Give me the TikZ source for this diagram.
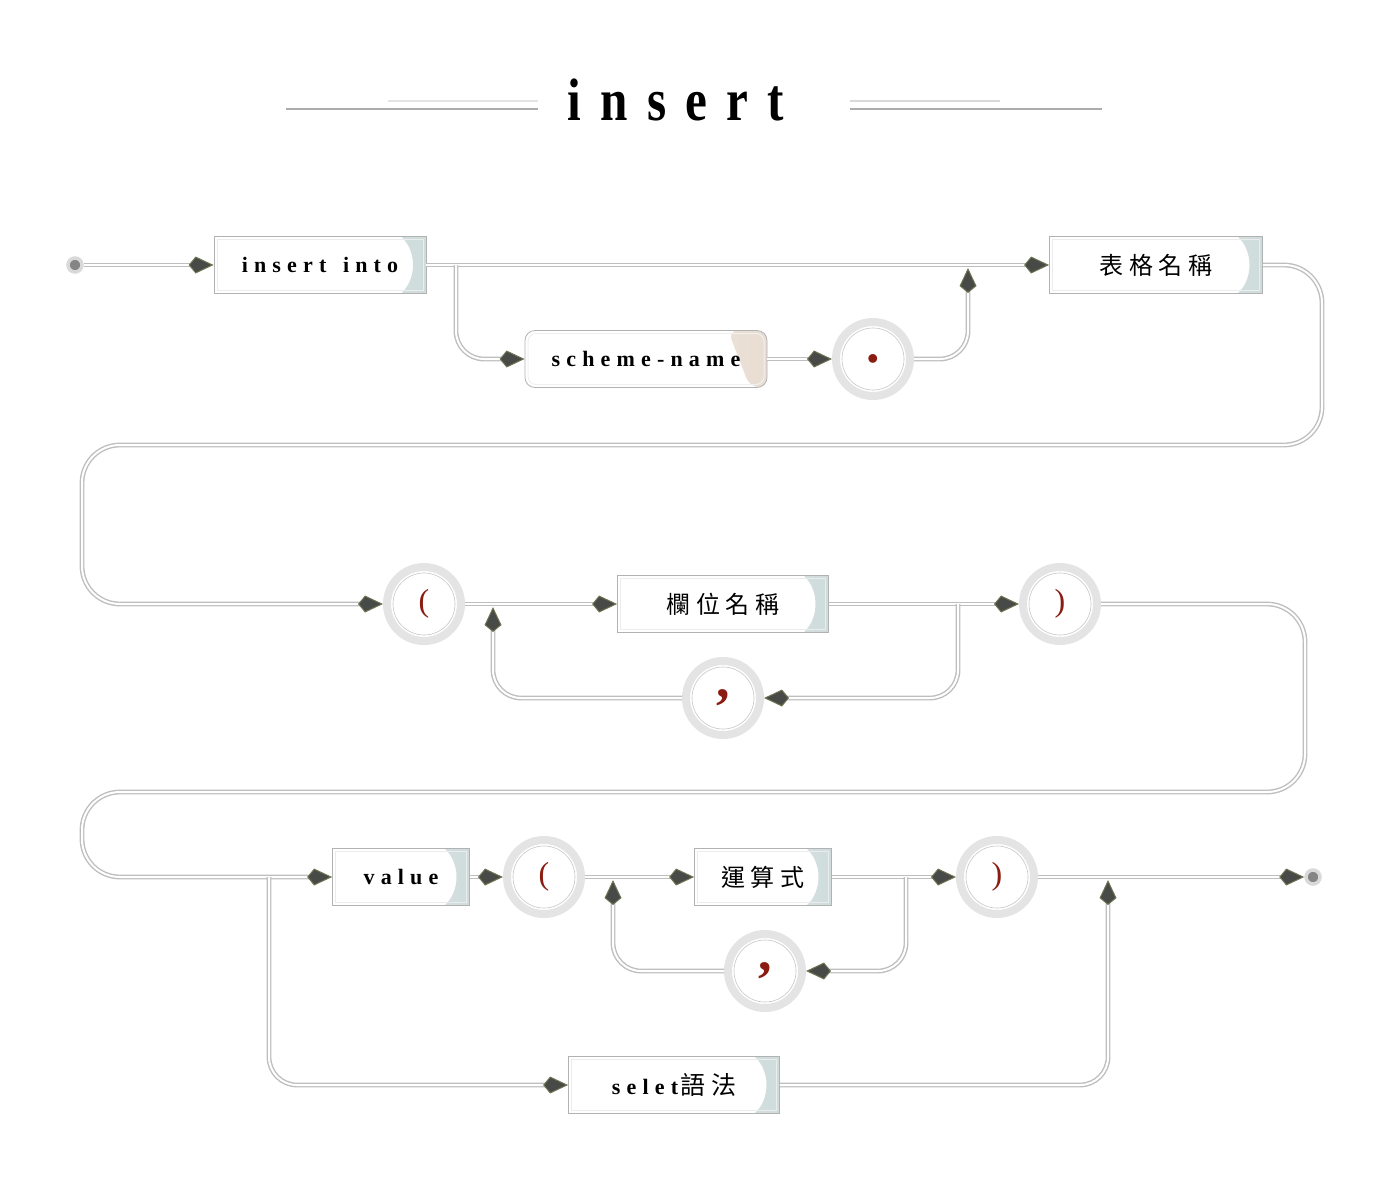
\documentclass[tikz,border=0pt]{standalone}
\usepackage{fontspec}
\setmainfont{Liberation Serif}
\newfontfamily\spaced[LetterSpace=28]{Liberation Serif}
\newfontfamily\titlefont[LetterSpace=32,FakeStretch=0.82]{Liberation Serif}
\newfontfamily\cjk[LetterSpace=24]{Noto Sans CJK TC}
\usetikzlibrary{arrows.meta}

\definecolor{wiregray}{HTML}{BEBEBE}
\definecolor{ringgray}{HTML}{E4E4E4}
\definecolor{boxtint}{HTML}{CFDCDC}
\definecolor{schemetint}{HTML}{E9DDD2}
\definecolor{punctred}{HTML}{8B1C12}
\definecolor{tipdark}{HTML}{484A47}
\definecolor{tipolive}{HTML}{6E7352}
\definecolor{dotgray}{HTML}{858585}

\tikzset{
  flow/.style={draw=white, line width=2pt, rounded corners=28pt, ->,
    preaction={draw=wiregray, line width=4.8pt, -, shorten >=8pt}},
  termbox/.style={rectangle, draw=gray!60, line width=0.8pt, fill=white,
    minimum height=57pt, inner sep=0pt, font=\spaced\bfseries\fontsize{22}{26}\selectfont,
    path picture={
      \shade[left color=boxtint!45, right color=boxtint]
        ([xshift=-25pt]path picture bounding box.north east)
        .. controls +(16pt,-14pt) and +(16pt,14pt) .. ([xshift=-25pt]path picture bounding box.south east)
        -- (path picture bounding box.south east) -- (path picture bounding box.north east) -- cycle;
      \draw[gray!15, line width=1pt]
        ([shift={(3pt,-3pt)}]path picture bounding box.north west) rectangle
        ([shift={(-3pt,3pt)}]path picture bounding box.south east);
    }},
  schemebox/.style={rectangle, rounded corners=10pt, draw=gray!60, line width=0.8pt, fill=white,
    minimum height=57pt, inner sep=0pt, font=\spaced\bfseries\fontsize{22}{26}\selectfont,
    path picture={
      \shade[left color=schemetint!40, right color=schemetint]
        ([xshift=-39pt]path picture bounding box.north east)
        -- ([xshift=-17pt]path picture bounding box.south east)
        -- (path picture bounding box.south east) -- (path picture bounding box.north east) -- cycle;
      \draw[gray!12, line width=1pt, rounded corners=8pt]
        ([shift={(3pt,-3pt)}]path picture bounding box.north west) rectangle
        ([shift={(-3pt,3pt)}]path picture bounding box.south east);
    }},
  punct/.style={circle, draw=ringgray, line width=8pt, fill=white, minimum size=74pt,
    inner sep=0pt, text=punctred, font=\fontsize{32}{32}\selectfont,
    path picture={\draw[gray!45, line width=0.6pt] (path picture bounding box.center) circle (31pt);}},
  terminal/.style={circle, fill=dotgray, draw=gray!30, line width=3.5pt, minimum size=14pt, inner sep=0pt},
}

\begin{document}
\begin{tikzpicture}[x=1pt, y=-1pt,
    >={Kite[length=25pt 0, width=17pt 0, inset=7pt 0, line width=1pt, color=tipolive, fill=tipdark]}]

  \useasboundingbox (0,0) rectangle (1388,1181);

  % title
  \node (title) at (676,120) [anchor=base, font=\titlefont\bfseries\fontsize{60}{60}\selectfont] {insert};
  \draw[gray!65, line width=2pt] (286,109) -- (538,109);
  \draw[gray!22, line width=2pt] (388,101) -- (538,101);
  \draw[gray!65, line width=2pt] (850,109) -- (1102,109);
  \draw[gray!30, line width=1.5pt] (850,101) -- (1000,101);

  % nodes
  \node[terminal] (start) at (75,265) {};
  \node[termbox, minimum width=212pt] (into) at (320,265) {insert\hspace{5pt} into};
  \node[schemebox, minimum width=242pt] (scheme) at (646,359) {scheme-name};
  \node[punct, font=\bfseries\fontsize{54}{54}\selectfont] (dot) at (873,359) {.};
  \node[termbox, minimum width=213pt, font=\cjk\fontsize{24}{28}\selectfont] (tbl) at (1156,265) {表格名稱};

  \node[punct] (lp1) at (424,604) {(};
  \node[termbox, minimum width=211pt, font=\cjk\fontsize{24}{28}\selectfont] (cols) at (723,604) {欄位名稱};
  \node[punct] (rp1) at (1060,604) {)};
  \node[punct, font=\bfseries\fontsize{54}{54}\selectfont] (cm1) at (723,698) {,};

  \node[termbox, minimum width=137pt] (val) at (401,877) {value};
  \node[punct] (lp2) at (544,877) {(};
  \node[termbox, minimum width=137pt, font=\cjk\fontsize{24}{28}\selectfont] (expr) at (763,877) {運算式};
  \node[punct] (rp2) at (997,877) {)};
  \node[punct, font=\bfseries\fontsize{54}{54}\selectfont] (cm2) at (765,971) {,};
  \node[termbox, minimum width=211pt] (sel) at (674,1085) {selet\hspace{2pt}{\cjk\mdseries\fontsize{25}{28}\selectfont 語法}};
  \node[terminal] (stop) at (1313,877) {};

  % branch and merge points
  \coordinate (b1) at (456,265);
  \coordinate (m1) at (968,268);
  \coordinate (b2) at (958,604);
  \coordinate (m2) at (493,607);
  \coordinate (b3) at (269,877);
  \coordinate (b4) at (906,877);
  \coordinate (m3) at (613,880);
  \coordinate (m4) at (1108,880);

  % connectors
  \draw[flow] (start) -- (into);
  \draw[flow] (into) -- (tbl);
  \draw[flow] (b1) |- (scheme);
  \draw[flow] (scheme) -- (dot);
  \draw[flow] (dot) -| (m1);
  \draw[flow, rounded corners=38pt] (tbl) -| (1322,445) -| (82,604) -- (lp1);

  \draw[flow] (lp1) -- (cols);
  \draw[flow] (cols) -- (rp1);
  \draw[flow] (b2) |- (cm1);
  \draw[flow] (cm1) -| (m2);
  \draw[flow, rounded corners=38pt] (rp1) -- (1305,604) |- (82,792) |- (val);

  \draw[flow] (b3) |- (sel);
  \draw[flow] (val) -- (lp2);
  \draw[flow] (lp2) -- (expr);
  \draw[flow] (expr) -- (rp2);
  \draw[flow] (b4) |- (cm2);
  \draw[flow] (cm2) -| (m3);
  \draw[flow] (rp2) -- (stop);
  \draw[flow] (sel) -| (m4);

\end{tikzpicture}
\end{document}
